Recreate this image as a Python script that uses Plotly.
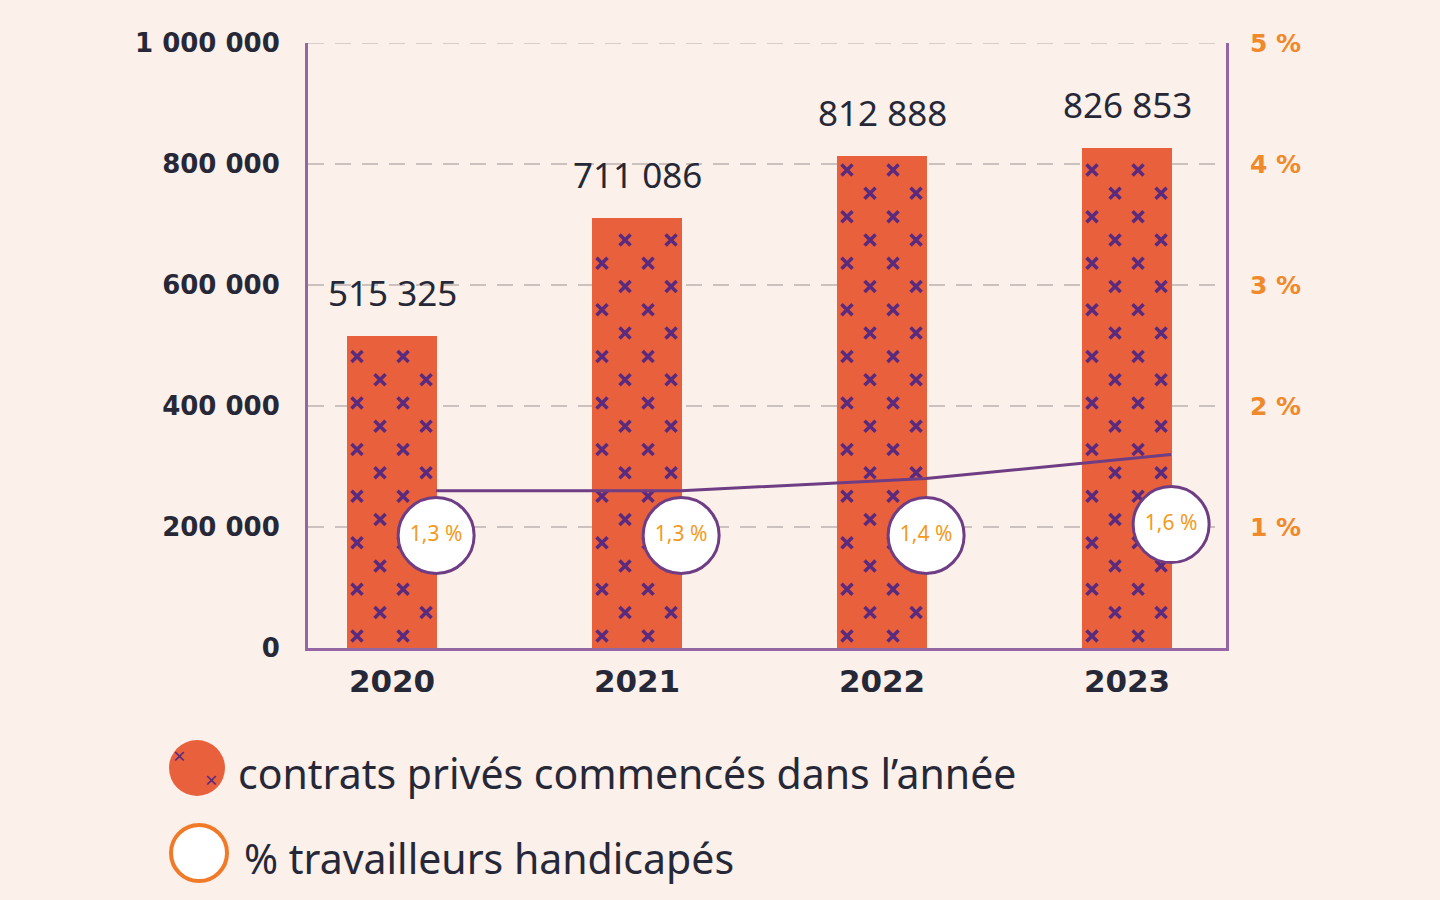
import plotly.graph_objects as go

# ---------------- data ----------------
years = ["2020", "2021", "2022", "2023"]
contracts = [515325, 711086, 812888, 826853]
pct_handicap = [1.3, 1.3, 1.4, 1.6]
y_ticks_left = [0, 200000, 400000, 600000, 800000, 1000000]
y_ticks_right = [1, 2, 3, 4, 5]
legend_labels = ["contrats privés commencés dans l’année", "% travailleurs handicapés"]

# ---------------- style ----------------
BG = "#FBF0EA"
ORANGE = "#E8613C"
PURPLE_X = "#5A2A7E"
AXIS = "#9466A3"
LINE = "#6E3D84"
GRID = "#CBC2C0"
GRID1 = "#CDAFD0"
TEXT = "#262838"
PCT = "#F0892A"

W, H = 1440, 900
L, R, T, B = 308, 214, 43, 252
PW, PH = W - L - R, H - T - B

def px(x):
    return (x - L) / PW

def py(y):
    return (H - B - y) / PH

xpos = list(range(len(years)))
badge_dx = 0.18
badge_level = [0.93, 0.93, 0.93, 1.02]

fig = go.Figure()

# bars
fig.add_trace(go.Bar(
    x=xpos, y=contracts, width=0.37,
    marker=dict(color=ORANGE, line=dict(width=0)),
    hoverinfo="skip", showlegend=False,
))

# cross pattern on bars (decoration derived from bar heights)
row_step = 38500
offs_even = [-0.143, 0.045]
offs_odd = [-0.049, 0.139]
cx, cy = [], []
for i, v in zip(xpos, contracts):
    k = 0
    yk = 20000
    while yk <= v - 14000:
        offs = offs_even if k % 2 == 0 else offs_odd
        for o in offs:
            cx.append(i + o)
            cy.append(yk)
        k += 1
        yk += row_step
fig.add_trace(go.Scatter(
    x=cx, y=cy, mode="markers",
    marker=dict(symbol="x-thin", size=11, line=dict(width=3.5, color=PURPLE_X), color=PURPLE_X),
    hoverinfo="skip", showlegend=False,
))

# percentage line
fig.add_trace(go.Scatter(
    x=[i + badge_dx for i in xpos], y=pct_handicap, yaxis="y2", mode="lines",
    line=dict(color=LINE, width=3), hoverinfo="skip", showlegend=False,
))

# badges
fig.add_trace(go.Scatter(
    x=[i + badge_dx for i in xpos], y=badge_level, yaxis="y2", mode="markers+text",
    marker=dict(size=76, color="white", line=dict(color=LINE, width=3)),
    text=[f"{p:.1f}".replace(".", ",") + " %" for p in pct_handicap],
    textposition="middle center",
    textfont=dict(family="Noto Sans", size=21, color="#F39A1E"),
    hoverinfo="skip", showlegend=False, cliponaxis=False,
))

annotations = []
for i, v in zip(xpos, contracts):
    annotations.append(dict(
        x=i, y=v, xref="x", yref="y", text=f"{v:,}".replace(",", " "),
        showarrow=False, yanchor="bottom", yshift=18,
        font=dict(family="Noto Sans", size=35, color=TEXT),
    ))

# grid line at the top and highlighted 1 % line, legend swatches
shapes = [
    dict(type="line", xref="paper", x0=0, x1=1, yref="y", y0=1000000, y1=1000000,
         line=dict(color=GRID, width=1.5, dash="16px,11px"), layer="below"),
    dict(type="line", xref="paper", x0=0, x1=1, yref="y2", y0=1, y1=1,
         line=dict(color=GRID1, width=2, dash="16px,11px"), layer="below"),
    dict(type="circle", xref="paper", yref="paper", xsizemode="pixel", ysizemode="pixel",
         xanchor=px(197), yanchor=py(768), x0=-28, x1=28, y0=-28, y1=28,
         fillcolor=ORANGE, line=dict(width=0)),
    dict(type="circle", xref="paper", yref="paper", xsizemode="pixel", ysizemode="pixel",
         xanchor=px(199), yanchor=py(853), x0=-28, x1=28, y0=-28, y1=28,
         fillcolor="white", line=dict(width=4, color="#F07A28")),
]
annotations.append(dict(x=px(236), y=py(773), xref="paper", yref="paper", text=legend_labels[0],
                        showarrow=False, xanchor="left", yanchor="middle",
                        font=dict(family="Noto Sans", size=41, color=TEXT)))
annotations.append(dict(x=px(242), y=py(858), xref="paper", yref="paper", text=legend_labels[1],
                        showarrow=False, xanchor="left", yanchor="middle",
                        font=dict(family="Noto Sans", size=41, color=TEXT)))
# small crosses on legend swatch
annotations.append(dict(x=px(171), y=py(772), xref="paper", yref="paper", text="×",
                        showarrow=False, font=dict(family="Noto Sans", size=22, color=PURPLE_X)))
annotations.append(dict(x=px(203), y=py(796), xref="paper", yref="paper", text="×",
                        showarrow=False, font=dict(family="Noto Sans", size=22, color=PURPLE_X)))

fig.update_layout(
    width=W, height=H,
    margin=dict(l=L, r=R, t=T, b=B),
    paper_bgcolor=BG, plot_bgcolor=BG,
    separators=", ",
    showlegend=False,
    bargap=0,
    xaxis=dict(
        range=[-0.343, 3.404], tickvals=xpos, ticktext=years,
        showgrid=False, zeroline=False,
        showline=True, linecolor=AXIS, linewidth=3,
        ticks="", ticklabelstandoff=4,
        tickfont=dict(family="DejaVu Sans", size=31, color=TEXT, weight="bold"),
    ),
    yaxis=dict(
        range=[0, 1000000], tickvals=y_ticks_left,
        ticktext=[f"{v:,}".replace(",", " ") for v in y_ticks_left],
        showgrid=True, gridcolor=GRID, gridwidth=1.5, griddash="16px,11px",
        zeroline=False, showline=True, linecolor=AXIS, linewidth=3,
        ticks="", ticklabelstandoff=20,
        tickfont=dict(family="DejaVu Sans", size=26, color=TEXT, weight="bold"),
    ),
    yaxis2=dict(
        range=[0, 5], overlaying="y", side="right", tickvals=y_ticks_right,
        ticktext=[f"{v} %" for v in y_ticks_right],
        showgrid=False, zeroline=False,
        showline=True, linecolor=AXIS, linewidth=3,
        ticks="", ticklabelstandoff=16,
        tickfont=dict(family="DejaVu Sans", size=25, color=PCT, weight="bold"),
    ),
    shapes=shapes,
    annotations=annotations,
)

fig.write_html("out.html", config={"displayModeBar": False},
               post_script="document.body.style.margin='0';")
